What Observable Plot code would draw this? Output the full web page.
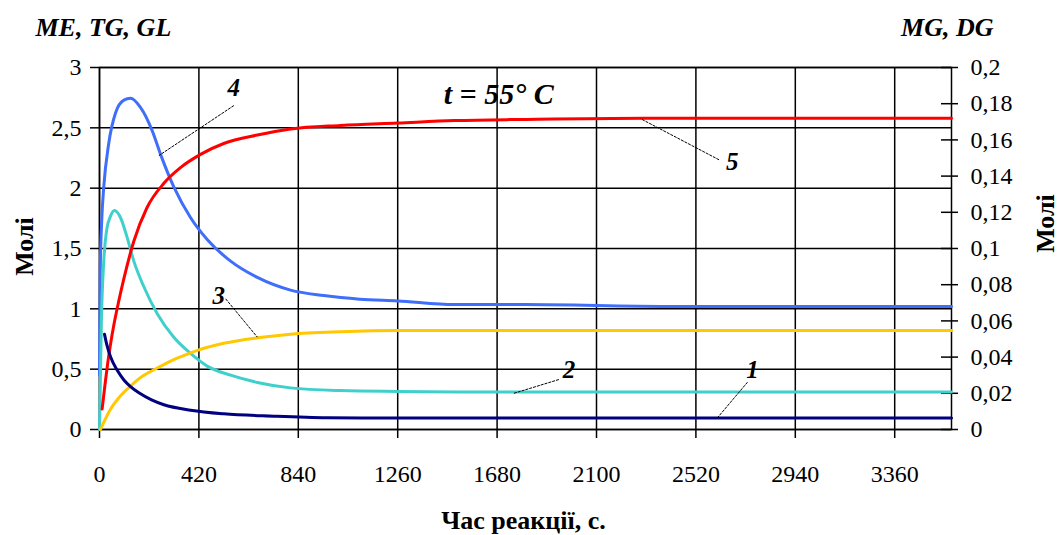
<!DOCTYPE html>
<html><head><meta charset="utf-8">
<script src="https://cdn.jsdelivr.net/npm/d3@7"></script>
<script src="https://cdn.jsdelivr.net/npm/@observablehq/plot@0.6"></script>
<style>body{margin:0;background:#fff}</style>
</head><body><div id="chart"></div>
<script>
// Tick values
const xTicks = [0, 420, 840, 1260, 1680, 2100, 2520, 2940, 3360];
const leftTicks = [0, 0.5, 1, 1.5, 2, 2.5, 3];
const rightTicks = [0, 0.02, 0.04, 0.06, 0.08, 0.1, 0.12, 0.14, 0.16, 0.18, 0.2];
const RIGHT_TO_LEFT = 3 / 0.2;

// Curve 1 (TG, left axis)
const t1 = [21, 30, 47, 75, 103, 131, 170, 220, 272, 385, 525, 737, 962, 1200, 3600];
const v1 = [0.79, 0.71, 0.60, 0.49, 0.41, 0.355, 0.30, 0.245, 0.205, 0.16, 0.13, 0.11, 0.097, 0.095, 0.095];
// Curve 2 (MG, right axis)
const t2 = [0, 8, 18, 30, 47, 63, 89, 117, 145, 187, 244, 314, 385, 455, 554, 667, 807, 1019, 1260, 1600, 2000, 3600];
const v2 = [0, 0.060, 0.093, 0.110, 0.118, 0.121, 0.117, 0.106, 0.093, 0.079, 0.064, 0.051, 0.042, 0.035, 0.030, 0.026, 0.023, 0.0215, 0.021, 0.0207, 0.0207, 0.0207];
// Curve 3 (GL, left axis)
const t3 = [4, 47, 89, 131, 173, 244, 314, 385, 420, 525, 667, 807, 1019, 1260, 1600, 3600];
const v3 = [0, 0.17, 0.28, 0.36, 0.43, 0.51, 0.58, 0.635, 0.66, 0.715, 0.76, 0.79, 0.81, 0.82, 0.82, 0.82];
// Curve 4 (DG, right axis)
const t4 = [0, 3, 10, 18, 39, 68, 103, 131, 173, 223, 258, 314, 385, 455, 554, 667, 807, 948, 1100, 1260, 1500, 1800, 2400, 3600];
const v4 = [0.030, 0.087, 0.117, 0.134, 0.158, 0.175, 0.182, 0.183, 0.178, 0.165, 0.152, 0.134, 0.117, 0.105, 0.093, 0.084, 0.077, 0.074, 0.072, 0.071, 0.069, 0.069, 0.068, 0.068];
// Curve 5 (ME, left axis)
const t5 = [11, 25, 39, 60, 82, 103, 145, 201, 272, 342, 427, 525, 667, 807, 1019, 1260, 1500, 1800, 2300, 3600];
const v5 = [0.17, 0.40, 0.61, 0.86, 1.07, 1.25, 1.56, 1.84, 2.04, 2.17, 2.28, 2.37, 2.44, 2.49, 2.52, 2.54, 2.56, 2.57, 2.58, 2.58];

// Curve annotations (data units, left axis)
const labelText = ["1", "2", "3", "4", "5"];
const labelT = [2759, 1984, 504, 567, 2674];
const labelV = [0.489, 0.489, 1.11, 2.83, 2.215];
const leaderT1 = [2738, 1941, 533, 568, 2618];
const leaderV1 = [0.392, 0.414, 1.083, 2.685, 2.235];
const leaderT2 = [2611, 1751, 667, 251, 2287];
const leaderV2 = [0.097, 0.30, 0.765, 2.27, 2.575];

const titleText = "t = 55° C";
const titleT = 1687, titleV = 2.78;

const colors = {1: "#000080", 2: "#40d0cc", 3: "#ffc800", 4: "#3f6ffa", 5: "#ff0000"};

const series = [
  {id: 4, t: t4, v: v4, right: true},
  {id: 2, t: t2, v: v2, right: true},
  {id: 5, t: t5, v: v5, right: false},
  {id: 3, t: t3, v: v3, right: false},
  {id: 1, t: t1, v: v1, right: false}
];

const fmt = d => String(+d.toFixed(2)).replace(".", ",");

const annotations = labelText.map((s, i) => ({
  s, t: labelT[i], v: labelV[i],
  t1: leaderT1[i], v1: leaderV1[i], t2: leaderT2[i], v2: leaderV2[i]
}));

const lineMarks = series.map(s => {
  const rows = s.t.map((t, i) => ({t, y: s.right ? s.v[i] * RIGHT_TO_LEFT : s.v[i]}));
  return Plot.line(rows, {x: "t", y: "y", stroke: colors[s.id], strokeWidth: 3, curve: "monotone-x"});
});

const plot = Plot.plot({
  width: 1059,
  height: 535,
  marginLeft: 99,
  marginRight: 108,
  marginTop: 67,
  marginBottom: 106,
  style: {fontFamily: "'Liberation Serif', 'Times New Roman', serif", fontSize: "24px", background: "#fff", color: "#000"},
  x: {domain: [0, 3600], label: null},
  y: {domain: [0, 3], label: null},
  marks: [
    Plot.gridX(xTicks, {stroke: "#000", strokeOpacity: 1, strokeWidth: 1.5}),
    Plot.gridY(leftTicks, {stroke: "#000", strokeOpacity: 1, strokeWidth: 1.5}),
    Plot.frame({stroke: "#000", strokeWidth: 1.5}),
    Plot.axisX(xTicks, {anchor: "bottom", tickSize: 9, tickPadding: 26, tickFormat: d => String(d), label: null, strokeWidth: 1.5}),
    Plot.axisY(leftTicks, {anchor: "left", tickSize: 9, tickPadding: 9, tickFormat: fmt, label: null, strokeWidth: 1.5}),
    Plot.axisY(rightTicks.map(v => v * RIGHT_TO_LEFT), {anchor: "right", tickSize: 17, dx: -11, tickPadding: 13, tickFormat: d => fmt(d / RIGHT_TO_LEFT), label: null, strokeWidth: 1.5}),
    ...lineMarks,
    Plot.link(annotations, {x1: "t1", y1: "v1", x2: "t2", y2: "v2", stroke: "#000", strokeWidth: 1, strokeDasharray: "3,1"}),
    Plot.text(annotations, {x: "t", y: "v", text: "s", fontWeight: "bold", fontStyle: "italic", fontSize: 25}),
    Plot.text([titleText], {x: titleT, y: titleV, text: d => d, fontWeight: "bold", fontStyle: "italic", fontSize: 30}),
    Plot.text(["ME, TG, GL"], {frameAnchor: "top-left", textAnchor: "start", lineAnchor: "bottom", dx: -64, dy: -32, fontWeight: "bold", fontStyle: "italic", fontSize: 26}),
    Plot.text(["MG, DG"], {frameAnchor: "top-right", textAnchor: "end", lineAnchor: "bottom", dx: 42, dy: -32, fontWeight: "bold", fontStyle: "italic", fontSize: 26}),
    Plot.text(["Молі"], {frameAnchor: "left", rotate: -90, textAnchor: "middle", lineAnchor: "middle", dx: -75, dy: -2, fontWeight: "bold", fontSize: 26}),
    Plot.text(["Молі"], {frameAnchor: "right", rotate: -90, textAnchor: "middle", lineAnchor: "middle", dx: 94, dy: -25, fontWeight: "bold", fontSize: 26}),
    Plot.text(["Час реакції, с."], {frameAnchor: "bottom", textAnchor: "middle", lineAnchor: "bottom", dx: -2, dy: 99, fontWeight: "bold", fontSize: 26})
  ]
});
document.getElementById("chart").appendChild(plot);
</script>
</body></html>
